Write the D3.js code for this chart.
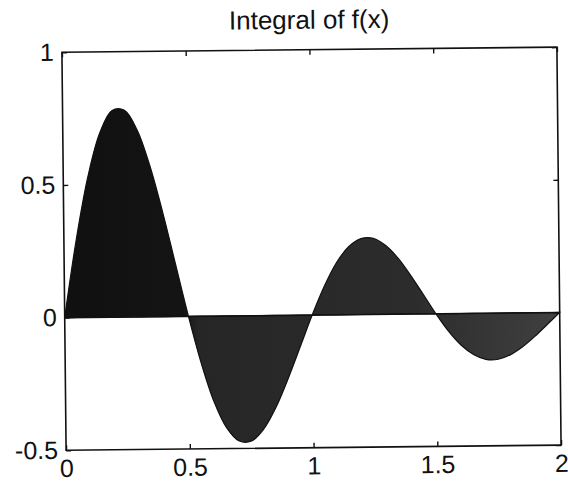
<!DOCTYPE html>
<html lang="en">
<head>
    <meta charset="UTF-8">
    <title>Integral of f(x)</title>
    <script src="https://d3js.org/d3.v7.min.js"></script>
</head>
<body>
    <div id="container"></div>
</body>

<style>
body {
    margin: 0;
    background: #fff;
}
svg text {
    font-family: "Liberation Sans", Arial, sans-serif;
    fill: #111;
}
</style>

<script>
    // values
    const xValues = [0, 0.05, 0.1, 0.15, 0.2, 0.25, 0.3, 0.35, 0.4, 0.45,
        0.5, 0.55, 0.6, 0.65, 0.7, 0.75, 0.8, 0.85, 0.9, 0.95,
        1, 1.05, 1.1, 1.15, 1.2, 1.25, 1.3, 1.35, 1.4, 1.45,
        1.5, 1.55, 1.6, 1.65, 1.7, 1.75, 1.8, 1.85, 1.9, 1.95, 2]
    const yValues = [0, 0.294, 0.532, 0.696, 0.779, 0.779, 0.705, 0.570, 0.394, 0.197,
        0, -0.178, -0.323, -0.422, -0.472, -0.472, -0.427, -0.346, -0.239, -0.120,
        0, 0.108, 0.196, 0.256, 0.286, 0.287, 0.259, 0.210, 0.145, 0.073,
        0, -0.066, -0.119, -0.155, -0.174, -0.174, -0.157, -0.127, -0.088, -0.044, 0]
    const xTicks = [0, 0.5, 1, 1.5, 2]
    const yTicks = [-0.5, 0, 0.5, 1]
    const title = 'Integral of f(x)'

    const width = 568
    const height = 484
    const margin = {left: 64, right: 9, top: 50, bottom: 36}

    const svg = d3.select('#container')
        .append('svg')
        .attr('width', width)
        .attr('height', height)

    // the scan is a bit tilted
    const g = svg.append('g')
        .attr('transform', 'rotate(-0.6,' + width / 2 + ',' + 249 + ')')

    const x = d3.scaleLinear()
        .domain([0, 2])
        .range([margin.left, width - margin.right])

    const y = d3.scaleLinear()
        .domain([-0.5, 1])
        .range([height - margin.bottom, margin.top])

    const data = xValues.map((v, i) => ({x: v, y: yValues[i]}))

    // fill gets lighter towards the right like in the scan
    const grad = svg.append('defs').append('linearGradient')
        .attr('id', 'fillGrad')
        .attr('gradientUnits', 'userSpaceOnUse')
        .attr('x1', x(0)).attr('x2', x(2))
        .attr('y1', 0).attr('y2', 0)
    grad.append('stop').attr('offset', 0).attr('stop-color', '#101010')
    grad.append('stop').attr('offset', 0.24).attr('stop-color', '#141414')
    grad.append('stop').attr('offset', 0.27).attr('stop-color', '#262626')
    grad.append('stop').attr('offset', 0.7).attr('stop-color', '#2c2c2c')
    grad.append('stop').attr('offset', 1).attr('stop-color', '#404040')

    const area = d3.area()
        .x(d => x(d.x))
        .y0(y(0))
        .y1(d => y(d.y))
        .curve(d3.curveCatmullRom)

    g.append('path')
        .datum(data)
        .attr('d', area)
        .attr('fill', 'url(#fillGrad)')
        .attr('stroke', '#111')
        .attr('stroke-width', 1.2)

    // zero line
    g.append('line')
        .attr('x1', x(0)).attr('x2', x(2))
        .attr('y1', y(0)).attr('y2', y(0))
        .attr('stroke', '#111')
        .attr('stroke-width', 1.5)

    // box
    g.append('rect')
        .attr('x', x(0))
        .attr('y', y(1))
        .attr('width', x(2) - x(0))
        .attr('height', y(-0.5) - y(1))
        .attr('fill', 'none')
        .attr('stroke', '#111')
        .attr('stroke-width', 1.6)

    const tickLen = 5
    const fmt = d => String(d)

    // inward ticks on all four sides
    const bottomAxis = d3.axisBottom(x).tickValues(xTicks).tickSizeInner(-tickLen).tickSizeOuter(0)
        .tickPadding(9).tickFormat(fmt)
    const topAxis = d3.axisTop(x).tickValues(xTicks).tickSizeInner(-tickLen).tickSizeOuter(0)
        .tickFormat('')
    const leftAxis = d3.axisLeft(y).tickValues(yTicks).tickSizeInner(-tickLen).tickSizeOuter(0)
        .tickPadding(8).tickFormat(fmt)
    const rightAxis = d3.axisRight(y).tickValues(yTicks).tickSizeInner(-tickLen).tickSizeOuter(0)
        .tickFormat('')

    function styleAxis(sel) {
        sel.select('.domain').remove()
        sel.selectAll('line').attr('stroke', '#111').attr('stroke-width', 1.4)
        sel.selectAll('text')
            .attr('font-size', 25)
            .attr('fill', '#111')
            .attr('font-family', '"Liberation Sans", Arial, sans-serif')
    }

    g.append('g')
        .attr('transform', 'translate(0,' + y(-0.5) + ')')
        .call(bottomAxis)
        .call(styleAxis)

    g.append('g')
        .attr('transform', 'translate(0,' + y(1) + ')')
        .call(topAxis)
        .call(styleAxis)

    g.append('g')
        .attr('transform', 'translate(' + x(0) + ',0)')
        .call(leftAxis)
        .call(styleAxis)

    g.append('g')
        .attr('transform', 'translate(' + x(2) + ',0)')
        .call(rightAxis)
        .call(styleAxis)

    g.append('text')
        .attr('x', (x(0) + x(2)) / 2)
        .attr('y', 29)
        .attr('text-anchor', 'middle')
        .attr('font-size', 26)
        .text(title)
</script>
</html>
